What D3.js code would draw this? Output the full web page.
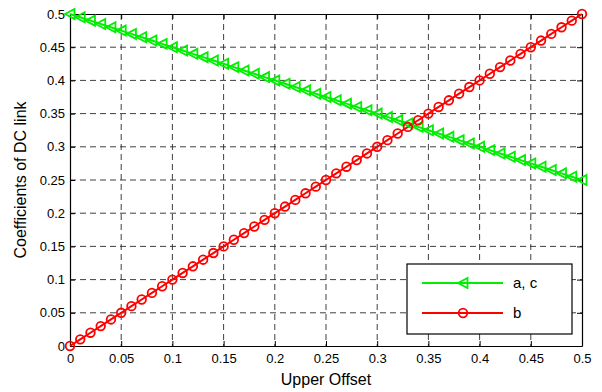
<!DOCTYPE html>
<html>
<head>
<meta charset="utf-8">
<script src="https://cdn.jsdelivr.net/npm/d3@7"></script>
<style>
  body { margin: 0; background: #fff; }
  svg { display: block; font-family: "Liberation Sans", Arial, sans-serif; }
</style>
</head>
<body>
<svg id="chart" width="602" height="392"></svg>
<script>
// Upper offset values (x axis)
const offsets = [0, 0.01, 0.02, 0.03, 0.04, 0.05, 0.06, 0.07, 0.08, 0.09,
  0.10, 0.11, 0.12, 0.13, 0.14, 0.15, 0.16, 0.17, 0.18, 0.19,
  0.20, 0.21, 0.22, 0.23, 0.24, 0.25, 0.26, 0.27, 0.28, 0.29,
  0.30, 0.31, 0.32, 0.33, 0.34, 0.35, 0.36, 0.37, 0.38, 0.39,
  0.40, 0.41, 0.42, 0.43, 0.44, 0.45, 0.46, 0.47, 0.48, 0.49, 0.50];

// DC link coefficient for phases a and c
const coefAC = [0.5, 0.495, 0.49, 0.485, 0.48, 0.475, 0.47, 0.465, 0.46, 0.455,
  0.45, 0.445, 0.44, 0.435, 0.43, 0.425, 0.42, 0.415, 0.41, 0.405,
  0.40, 0.395, 0.39, 0.385, 0.38, 0.375, 0.37, 0.365, 0.36, 0.355,
  0.35, 0.345, 0.34, 0.335, 0.33, 0.325, 0.32, 0.315, 0.31, 0.305,
  0.30, 0.295, 0.29, 0.285, 0.28, 0.275, 0.27, 0.265, 0.26, 0.255, 0.25];

// DC link coefficient for phase b
const coefB = [0, 0.01, 0.02, 0.03, 0.04, 0.05, 0.06, 0.07, 0.08, 0.09,
  0.10, 0.11, 0.12, 0.13, 0.14, 0.15, 0.16, 0.17, 0.18, 0.19,
  0.20, 0.21, 0.22, 0.23, 0.24, 0.25, 0.26, 0.27, 0.28, 0.29,
  0.30, 0.31, 0.32, 0.33, 0.34, 0.35, 0.36, 0.37, 0.38, 0.39,
  0.40, 0.41, 0.42, 0.43, 0.44, 0.45, 0.46, 0.47, 0.48, 0.49, 0.50];

const xTicks = [0, 0.05, 0.1, 0.15, 0.2, 0.25, 0.3, 0.35, 0.4, 0.45, 0.5];
const yTicks = [0, 0.05, 0.1, 0.15, 0.2, 0.25, 0.3, 0.35, 0.4, 0.45, 0.5];
const seriesNames = ["a, c", "b"];

const margin = { left: 70, top: 14, right: 20, bottom: 46 };
const W = 602, H = 392;
const pw = W - margin.left - margin.right;   // 512
const ph = H - margin.top - margin.bottom;   // 332

const svg = d3.select("#chart");
const g = svg.append("g").attr("transform", `translate(${margin.left},${margin.top})`);

const x = d3.scaleLinear().domain([0, 0.5]).range([0, pw]);
const y = d3.scaleLinear().domain([0, 0.5]).range([ph, 0]);

const fmt = d => (d === 0 ? "0" : String(d));

// dashed grid
const grid = g.append("g").attr("stroke", "#2a2a2a").attr("stroke-width", 0.9)
  .attr("stroke-dasharray", "6,4").attr("fill", "none");
grid.selectAll("line.gx").data(xTicks.slice(1, -1)).join("line")
  .attr("x1", d => x(d)).attr("x2", d => x(d)).attr("y1", 0).attr("y2", ph);
grid.selectAll("line.gy").data(yTicks.slice(1, -1)).join("line")
  .attr("y1", d => y(d)).attr("y2", d => y(d)).attr("x1", 0).attr("x2", pw);

// axes with inward ticks on all four sides
const tickLen = 5;
const axB = g.append("g").attr("transform", `translate(0,${ph})`)
  .call(d3.axisBottom(x).tickValues(xTicks).tickFormat(fmt).tickSizeInner(-tickLen).tickSizeOuter(0).tickPadding(8));
const axL = g.append("g")
  .call(d3.axisLeft(y).tickValues(yTicks).tickFormat(fmt).tickSizeInner(-tickLen).tickSizeOuter(0).tickPadding(5));
const axT = g.append("g")
  .call(d3.axisTop(x).tickValues(xTicks).tickFormat("").tickSizeInner(-tickLen).tickSizeOuter(0));
const axR = g.append("g").attr("transform", `translate(${pw},0)`)
  .call(d3.axisRight(y).tickValues(yTicks).tickFormat("").tickSizeInner(-tickLen).tickSizeOuter(0));

[axB, axL, axT, axR].forEach(a => {
  a.select(".domain").attr("stroke", "#000").attr("stroke-width", 1.2);
  a.selectAll(".tick line").attr("stroke", "#000").attr("stroke-width", 1);
  a.selectAll("text").attr("font-size", 13).attr("fill", "#000")
    .attr("font-family", "'Liberation Sans', Arial, sans-serif");
});

// data lines
const line = d3.line().x((d, i) => x(offsets[i])).y(d => y(d));
const green = "#00ee00", red = "#ff0000";

g.append("path").datum(coefAC).attr("d", line)
  .attr("fill", "none").attr("stroke", green).attr("stroke-width", 2);
g.append("path").datum(coefB).attr("d", line)
  .attr("fill", "none").attr("stroke", red).attr("stroke-width", 2);

// left-pointing triangle marker
const tri = s => `M${-s},0L${s * 0.9},${-s}L${s * 0.9},${s}Z`;

g.append("g").selectAll("path").data(coefAC).join("path")
  .attr("transform", (d, i) => `translate(${x(offsets[i])},${y(d)})`)
  .attr("d", tri(5))
  .attr("fill", "none").attr("stroke", green).attr("stroke-width", 1.8);

g.append("g").selectAll("circle").data(coefB).join("circle")
  .attr("cx", (d, i) => x(offsets[i])).attr("cy", d => y(d)).attr("r", 4.3)
  .attr("fill", "none").attr("stroke", red).attr("stroke-width", 1.8);

// legend
const lg = svg.append("g").attr("transform", "translate(407,264)");
lg.append("rect").attr("width", 165).attr("height", 70)
  .attr("fill", "#fff").attr("stroke", "#000").attr("stroke-width", 1.2);
const rows = [
  { name: seriesNames[0], color: green, kind: "tri", y: 19 },
  { name: seriesNames[1], color: red, kind: "circ", y: 49 }
];
rows.forEach(r => {
  lg.append("line").attr("x1", 15).attr("x2", 96).attr("y1", r.y).attr("y2", r.y)
    .attr("stroke", r.color).attr("stroke-width", 2);
  if (r.kind === "tri") {
    lg.append("path").attr("transform", `translate(56,${r.y})`).attr("d", tri(5))
      .attr("fill", "none").attr("stroke", r.color).attr("stroke-width", 1.8);
  } else {
    lg.append("circle").attr("cx", 56).attr("cy", r.y).attr("r", 4.3)
      .attr("fill", "none").attr("stroke", r.color).attr("stroke-width", 1.8);
  }
  lg.append("text").attr("x", 106).attr("y", r.y + 5).attr("font-size", 15)
    .attr("fill", "#000").text(r.name);
});

// axis titles
svg.append("text").attr("x", margin.left + pw / 2).attr("y", 385)
  .attr("text-anchor", "middle").attr("font-size", 16).attr("fill", "#000").text("Upper Offset");
svg.append("text").attr("transform", `translate(26,${margin.top + ph / 2}) rotate(-90)`)
  .attr("text-anchor", "middle").attr("font-size", 16).attr("fill", "#000").text("Coefficients of DC link");
</script>
</body>
</html>
